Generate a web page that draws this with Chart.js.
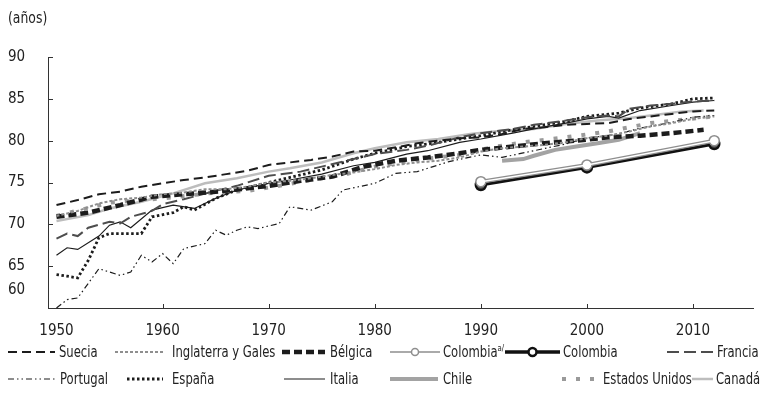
<!DOCTYPE html>
<html lang="es">
<head>
<meta charset="utf-8">
<title>Esperanza de vida</title>
<script src="https://cdn.jsdelivr.net/npm/chart.js@4.4.1/dist/chart.umd.min.js"></script>
<style>
  html, body { margin: 0; padding: 0; background: #fff; }
  #caja { position: relative; width: 761px; height: 393px; overflow: hidden;
          font-family: 'Liberation Sans Narrow', 'Arial Narrow', 'DejaVu Sans Condensed', sans-serif; color: #222; }
  #grafica { position: absolute; left: 0; top: 0; }
  .unidad { position: absolute; left: 8px; top: 9px; font-size: 15px; line-height: 18px; transform: scaleX(0.92); transform-origin: left; }
  .item { position: absolute; height: 18px; font-size: 15px; line-height: 18px; white-space: nowrap; }
  .item canvas { position: absolute; top: 3px; left: 0; }
  .item span { position: absolute; top: 0; transform: scaleX(0.86); transform-origin: left; }
  .item sup { font-size: 9px; vertical-align: 6px; line-height: 0; }
</style>
</head>
<body>
<div id="caja">
  <canvas id="grafica" width="761" height="393"></canvas>
  <div class="unidad">(años)</div>
</div>
<script>
// valores (años de esperanza de vida)
const suecia_anios = [1950,1952,1954,1956,1958,1960,1962,1964,1966,1968,1970,1972,1974,1976,1978,1980,1982,1984,1986,1988,1990,1992,1994,1996,1998,2000,2002,2004,2006,2008,2010,2012];
const suecia       = [72.3,72.9,73.6,73.9,74.5,74.9,75.3,75.6,76.0,76.4,77.1,77.4,77.7,78.1,78.7,78.8,79.2,79.7,80.0,80.3,80.4,80.8,81.4,81.6,81.9,82.0,82.1,82.6,82.9,83.2,83.5,83.6];

const inglaterra_anios = [1950,1952,1954,1956,1958,1960,1962,1964,1966,1968,1970,1972,1974,1976,1978,1980,1982,1984,1986,1988,1990,1992,1994,1996,1998,2000,2002,2004,2006,2008,2010,2012];
const inglaterra       = [71.0,71.6,72.5,73.0,73.2,73.6,73.8,74.2,74.2,74.5,75.0,75.2,75.5,75.9,76.2,76.6,77.1,77.4,77.6,78.0,78.7,79.1,79.3,79.5,79.8,80.3,80.6,81.1,81.7,82.1,82.6,82.9];

const belgica_anios = [1950,1953,1956,1959,1962,1965,1968,1970,1973,1976,1979,1982,1985,1988,1990,1993,1996,1999,2002,2005,2008,2011];
const belgica       = [70.9,71.4,72.3,73.3,73.6,73.9,74.3,74.6,75.2,75.7,76.9,77.6,78.0,78.5,78.9,79.3,79.7,80.0,80.4,80.6,80.9,81.3];

const colombia_a_anios = [1990,2000,2012];
const colombia_a       = [75.1,77.1,80.0];

const colombia_anios = [1990,2000,2012];
const colombia       = [74.7,76.8,79.6];

const francia_anios = [1950,1951,1952,1953,1955,1956,1957,1959,1960,1962,1965,1967,1970,1973,1975,1978,1980,1983,1985,1988,1990,1993,1995,1998,2000,2002,2003,2004,2006,2008,2010,2012];
const francia       = [68.3,68.9,68.6,69.6,70.3,70.1,70.9,71.6,72.4,73.0,74.0,74.6,75.8,76.3,76.9,77.8,78.4,78.9,79.4,80.4,80.9,81.4,81.9,82.4,82.8,83.0,82.9,83.8,84.2,84.4,84.7,84.8];

const portugal_anios = [1950,1951,1952,1954,1956,1957,1958,1959,1960,1961,1962,1964,1965,1966,1967,1968,1969,1971,1972,1974,1976,1977,1980,1982,1984,1987,1990,1992,1995,1998,2000,2003,2005,2008,2010,2012];
const portugal       = [60.0,61.0,61.2,64.7,63.9,64.3,66.3,65.5,66.5,65.3,67.1,67.7,69.3,68.7,69.3,69.7,69.5,70.1,72.1,71.7,72.7,74.1,74.9,76.1,76.3,77.5,78.3,78.0,78.8,79.6,80.3,80.8,81.5,82.2,82.8,83.0];

const espana_anios = [1950,1951,1952,1953,1954,1955,1956,1957,1958,1959,1961,1962,1963,1965,1967,1970,1973,1975,1978,1980,1983,1985,1988,1990,1993,1995,1998,2000,2003,2005,2008,2010,2012];
const espana       = [64.0,63.8,63.6,65.7,68.4,68.9,68.9,68.9,68.9,70.9,71.4,72.1,71.7,73.1,74.1,75.0,75.9,76.5,77.8,78.5,79.3,79.6,80.2,80.6,81.3,81.7,82.3,82.9,83.3,83.9,84.4,85.0,85.1];

const italia_anios = [1950,1951,1952,1954,1955,1956,1957,1959,1961,1963,1965,1967,1970,1972,1975,1978,1980,1983,1985,1988,1990,1993,1995,1998,2000,2002,2003,2005,2008,2010,2012];
const italia       = [66.3,67.2,67.0,68.6,69.9,70.3,69.6,71.7,72.3,71.9,73.1,74.1,74.9,75.3,76.0,77.0,77.4,78.4,78.8,79.8,80.2,80.9,81.4,82.1,82.6,82.9,82.7,83.6,84.2,84.6,84.8];

const chile_anios = [1992,1994,1995,1997,1999,2001,2003,2005];
const chile       = [77.6,77.8,78.2,78.9,79.3,79.7,80.1,80.9];

const eeuu_anios = [1950,1955,1960,1965,1968,1971,1974,1977,1980,1984,1988,1991,1994,1998,2002,2006,2009,2012];
const eeuu       = [71.0,72.6,73.1,73.8,74.0,74.6,75.3,75.9,76.9,77.7,78.3,79.2,79.8,80.4,81.1,82.1,82.5,82.9];

const canada_anios = [1950,1953,1955,1958,1961,1964,1967,1970,1972,1975,1978,1980,1983,1986,1989,1992,1995,1998,2001,2004,2006,2009,2011];
const canada       = [70.4,71.1,71.9,72.7,73.7,74.9,75.5,76.3,76.7,77.4,78.5,79.1,79.8,80.2,80.8,81.2,81.4,82.0,82.4,82.7,83.0,83.5,83.6];

const ticksX = [1950,1960,1970,1980,1990,2000,2010];
const ticksY = [60,65,70,75,80,85,90];

const puntos = (anios, valores) => anios.map((a, i) => ({x: a, y: valores[i]}));

const NEGRO = '#1c1c1c', GRIS = '#8e8e8e', GRIS_CLARO = '#bdbdbd', GRIS_OSCURO = '#4d4d4d';

const series = [
  {label: 'Suecia', data: puntos(suecia_anios, suecia), borderColor: NEGRO, borderWidth: 2, borderDash: [9,5]},
  {label: 'Inglaterra y Gales', data: puntos(inglaterra_anios, inglaterra), borderColor: GRIS, borderWidth: 2, borderDash: [3,2]},
  {label: 'Bélgica', data: puntos(belgica_anios, belgica), borderColor: NEGRO, borderWidth: 4.5, borderDash: [8,4]},
  {label: 'Colombia a/', data: puntos(colombia_a_anios, colombia_a), borderColor: GRIS, borderWidth: 4,
   pointRadius: 5, pointBorderWidth: 1.5, pointBorderColor: GRIS, pointBackgroundColor: '#fff'},
  {label: 'Colombia', data: puntos(colombia_anios, colombia), borderColor: '#111', borderWidth: 3,
   pointRadius: 5, pointBorderWidth: 2.5, pointBorderColor: '#111', pointBackgroundColor: '#555'},
  {label: 'Francia', data: puntos(francia_anios, francia), borderColor: GRIS_OSCURO, borderWidth: 2, borderDash: [12,5]},
  {label: 'Portugal', data: puntos(portugal_anios, portugal), borderColor: NEGRO, borderWidth: 1.2, borderDash: [6,3,1.5,3,1.5,3]},
  {label: 'España', data: puntos(espana_anios, espana), borderColor: NEGRO, borderWidth: 2.8, borderDash: [2.5,2.5]},
  {label: 'Italia', data: puntos(italia_anios, italia), borderColor: NEGRO, borderWidth: 1.2},
  {label: 'Chile', data: puntos(chile_anios, chile), borderColor: '#a3a3a3', borderWidth: 4},
  {label: 'Estados Unidos', data: puntos(eeuu_anios, eeuu), borderColor: '#9a9a9a', borderWidth: 4, borderDash: [4,10]},
  {label: 'Canadá', data: puntos(canada_anios, canada), borderColor: GRIS_CLARO, borderWidth: 2.5},
  // línea blanca interior de Colombia a/ (efecto de tubo)
  {label: '', data: puntos(colombia_a_anios, colombia_a), borderColor: '#fff', borderWidth: 1.5, order: -1}
];
series.forEach(s => { s.pointRadius = s.pointRadius || 0; s.fill = false; s.tension = 0; s.borderCapStyle = 'butt'; s.clip = false; });

// marcas de los ejes hacia adentro
const marcas = {
  id: 'marcas',
  afterDraw(chart){
    const {ctx, chartArea: a} = chart;
    const x = chart.scales.x, y = chart.scales.y;
    ctx.save();
    ctx.strokeStyle = '#333';
    ctx.lineWidth = 1;
    ctx.beginPath();
    ticksX.slice(1).forEach(v => {
      const px = Math.round(x.getPixelForValue(v)) + 0.5;
      ctx.moveTo(px, a.bottom); ctx.lineTo(px, a.bottom - 4);
    });
    ticksY.slice(1).forEach(v => {
      const py = Math.round(y.getPixelForValue(v)) + 0.5;
      ctx.moveTo(a.left, py); ctx.lineTo(a.left + 5, py);
    });
    ctx.stroke();
    ctx.restore();
  }
};

Chart.defaults.font.family = "'Liberation Sans Narrow', 'Arial Narrow', 'DejaVu Sans Condensed', sans-serif";
Chart.defaults.font.size = 15;
Chart.defaults.color = '#222';

const grafica = new Chart(document.getElementById('grafica').getContext('2d'), {
  type: 'line',
  data: {datasets: series},
  options: {
    responsive: false,
    animation: false,
    layout: {padding: {left: 8, top: 57, right: 5, bottom: 0}},
    plugins: {legend: {display: false}, tooltip: {enabled: false}},
    scales: {
      x: {
        type: 'linear', min: 1949.2, max: 2015.7,
        grid: {display: false, drawTicks: false},
        border: {display: true, color: '#333', width: 1},
        afterBuildTicks: s => { s.ticks = ticksX.map(v => ({value: v})); },
        afterFit: s => { s.height = 85; },
        ticks: {padding: 14, autoSkip: false, maxRotation: 0, callback: v => String(v)}
      },
      y: {
        min: 60, max: 90,
        grid: {display: false, drawTicks: false},
        border: {display: true, color: '#333', width: 1},
        afterBuildTicks: s => { s.ticks = ticksY.map(v => ({value: v})); },
        afterFit: s => { s.width = 40; },
        ticks: {crossAlign: 'far', padding: 0, autoSkip: false, callback: v => v === 60 ? ['60', '', ''] : String(v)}
      }
    }
  },
  plugins: [marcas]
});

// leyenda en dos filas, como en el original
const leyenda = [
  {serie: 'Suecia', fila: 0, x: 8, w: 47, tx: 59},
  {serie: 'Inglaterra y Gales', fila: 0, x: 115, w: 48, tx: 172},
  {serie: 'Bélgica', fila: 0, x: 282, w: 43, tx: 330},
  {serie: 'Colombia a/', fila: 0, x: 390, w: 50, tx: 443},
  {serie: 'Colombia', fila: 0, x: 505, w: 55, tx: 563},
  {serie: 'Francia', fila: 0, x: 667, w: 46, tx: 717},
  {serie: 'Portugal', fila: 1, x: 8, w: 47, tx: 60},
  {serie: 'España', fila: 1, x: 127, w: 36, tx: 172},
  {serie: 'Italia', fila: 1, x: 284, w: 41, tx: 330},
  {serie: 'Chile', fila: 1, x: 390, w: 48, tx: 443},
  {serie: 'Estados Unidos', fila: 1, x: 562, w: 36, tx: 603},
  {serie: 'Canadá', fila: 1, x: 692, w: 21, tx: 716}
];
const filasY = [343, 370];

const caja = document.getElementById('caja');
leyenda.forEach(l => {
  const s = series.find(d => d.label === l.serie);
  const item = document.createElement('div');
  item.className = 'item';
  item.style.left = l.x + 'px';
  item.style.top = filasY[l.fila] + 'px';

  const c = document.createElement('canvas');
  c.width = l.w; c.height = 12;
  const g = c.getContext('2d');
  g.strokeStyle = s.borderColor;
  g.lineWidth = s.borderWidth;
  g.setLineDash(s.borderDash || []);
  if (l.serie === 'Colombia a/') g.lineWidth = 1.5;
  if (l.serie === 'Colombia') g.lineWidth = 3.5;
  g.beginPath(); g.moveTo(0, 6); g.lineTo(l.w, 6); g.stroke();
  if (s.pointRadius) {
    g.setLineDash([]);
    g.fillStyle = '#fff';
    g.lineWidth = l.serie === 'Colombia' ? 2.5 : 1.5;
    g.beginPath(); g.arc(l.w / 2, 6, l.serie === 'Colombia' ? 4 : 3.5, 0, Math.PI * 2); g.fill(); g.stroke();
  }
  item.appendChild(c);

  const t = document.createElement('span');
  t.style.left = (l.tx - l.x) + 'px';
  if (l.serie === 'Colombia a/') t.innerHTML = 'Colombia<sup>a/</sup>';
  else t.textContent = l.serie;
  item.appendChild(t);
  caja.appendChild(item);
});
</script>
</body>
</html>
